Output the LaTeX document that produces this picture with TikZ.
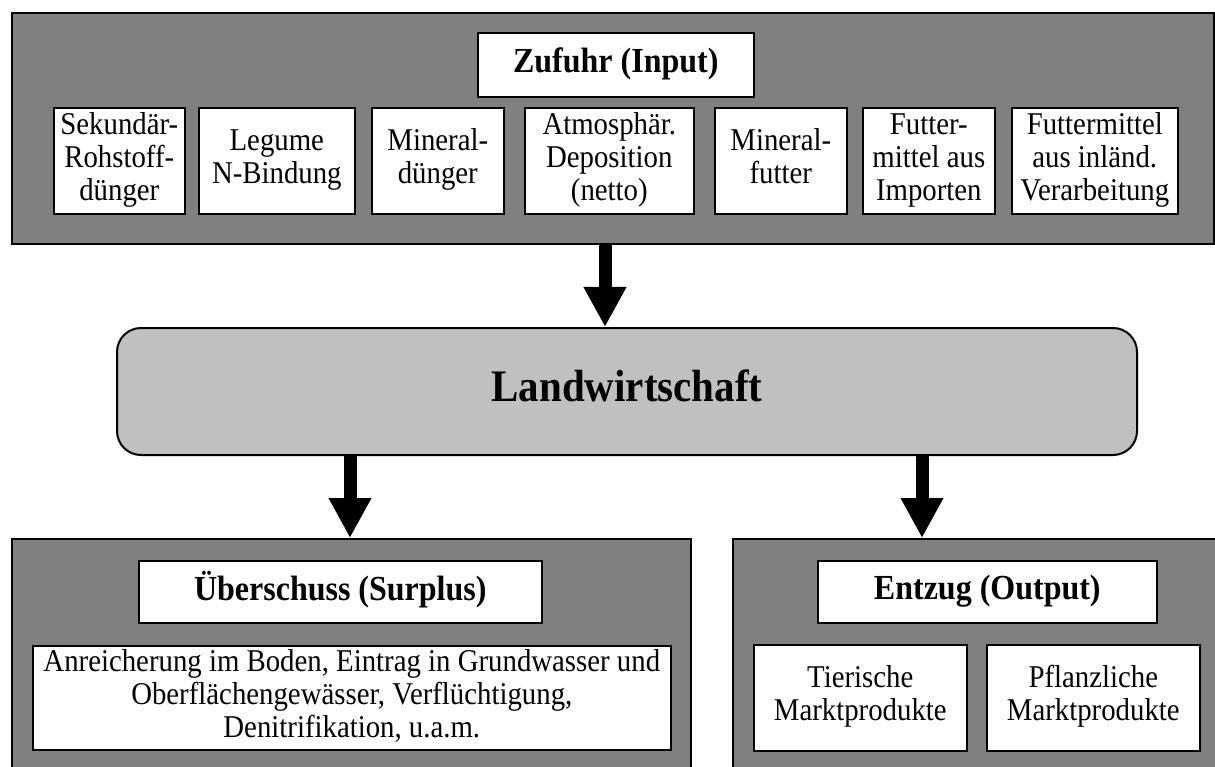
\documentclass[tikz,border=0pt]{standalone}
\usepackage{fontspec}
\setmainfont{Liberation Serif}
\usetikzlibrary{arrows.meta}
\definecolor{dgray}{RGB}{128,128,128}
\definecolor{lgray}{RGB}{192,192,192}
\newcommand{\txt}[1]{\scalebox{1}[1.1]{\begin{tabular}{@{}c@{}}#1\end{tabular}}}
\begin{document}
\begin{tikzpicture}[x=1pt,y=-1pt,
  panel/.style={draw=black,line width=2pt,fill=dgray},
  wbox/.style={draw=black,line width=1.6pt,fill=white,align=center,inner sep=0pt,
    anchor=north west,font=\fontsize{28.8}{30}\selectfont},
  hbox/.style={wbox,font=\fontsize{32}{34}\selectfont\bfseries},
  bigarrow/.style={line width=13pt,-{Triangle[width=40pt,length=40pt]}}]
\useasboundingbox (0,0) rectangle (1215,767);
\clip (0,0) rectangle (1215,767);
% top panel
\node[panel,anchor=north west,minimum width=1202pt,minimum height=231pt,inner sep=0pt] (top) at (11,12) {};
\node[hbox,minimum width=276pt,minimum height=64pt] (zuf) at (477,32) {\txt{Zufuhr (Input)}};
\node[wbox,minimum width=131pt,minimum height=106pt] (b1) at (53,107) {\txt{Sekundär-\\Rohstoff-\\dünger}};
\node[wbox,minimum width=156pt,minimum height=106pt] (b2) at (198,107) {\txt{Legume\\N-Bindung}};
\node[wbox,minimum width=132pt,minimum height=106pt] (b3) at (371,107) {\txt{Mineral-\\dünger}};
\node[wbox,minimum width=169pt,minimum height=106pt] (b4) at (524,107) {\txt{Atmosphär.\\Deposition\\(netto)}};
\node[wbox,minimum width=132pt,minimum height=106pt] (b5) at (714,107) {\txt{Mineral-\\futter}};
\node[wbox,minimum width=132pt,minimum height=106pt] (b6) at (862,107) {\txt{Futter-\\mittel aus\\Importen}};
\node[wbox,minimum width=166pt,minimum height=106pt] (b7) at (1011,107) {\txt{Futtermittel\\aus inländ.\\Verarbeitung}};
% middle
\node[draw=black,line width=2pt,fill=lgray,rounded corners=24pt,anchor=north west,
  minimum width=1020pt,minimum height=127pt,inner sep=0pt,
  font=\fontsize{41}{46}\selectfont\bfseries] (land) at (116,327) {\txt{Landwirtschaft}};
% bottom panels
\node[panel,anchor=north west,minimum width=679pt,minimum height=260pt,inner sep=0pt] (sur) at (11,538) {};
\node[panel,anchor=north west,minimum width=500pt,minimum height=260pt,inner sep=0pt] (out) at (732,538) {};
\node[hbox,minimum width=403pt,minimum height=62pt] (ueb) at (138,560) {\txt{Überschuss (Surplus)}};
\node[wbox,minimum width=638pt,minimum height=104pt] (anr) at (32,645) {\txt{Anreicherung im Boden, Eintrag in Grundwasser und\\Oberflächengewässer, Verflüchtigung,\\Denitrifikation, u.a.m.}};
\node[hbox,minimum width=339pt,minimum height=62pt] (ent) at (817,560) {\txt{Entzug (Output)}};
\node[wbox,minimum width=213pt,minimum height=106pt] (tier) at (753,644) {\txt{Tierische\\Marktprodukte}};
\node[wbox,minimum width=213pt,minimum height=106pt] (pfl) at (986,644) {\txt{Pflanzliche\\Marktprodukte}};
% arrows
\coordinate (a1) at (605,243);
\coordinate (a2) at (350,454);
\coordinate (a3) at (922,454);
\draw[bigarrow] (a1) -- (a1 |- land.north);
\draw[bigarrow] (a2) -- (a2 |- sur.north);
\draw[bigarrow] (a3) -- (a3 |- out.north);
\end{tikzpicture}
\end{document}
